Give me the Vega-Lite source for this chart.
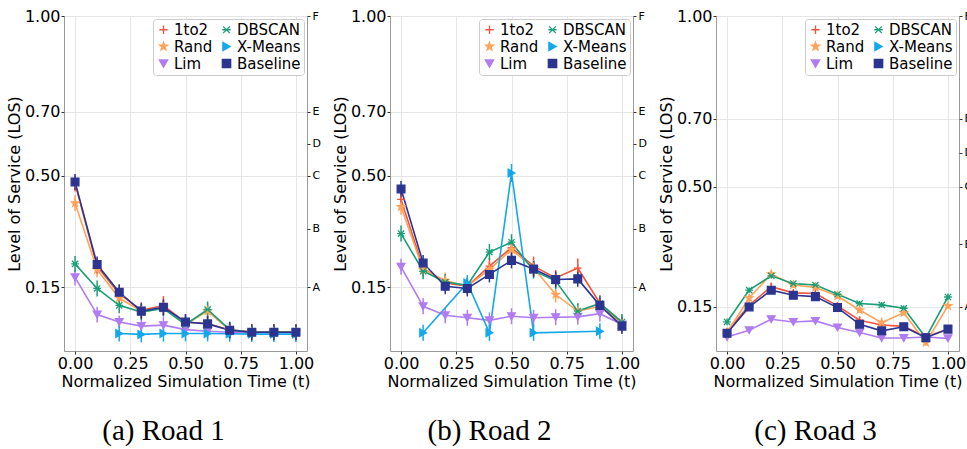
{
  "$schema": "https://vega.github.io/schema/vega-lite/v6.json",
  "padding": {"left": 5, "top": 7, "right": 0, "bottom": 0},
  "bounds": "flush",
  "spacing": 83,
  "config": {
    "font": "DejaVu Sans",
    "view": {"stroke": "#9a9a9a", "strokeWidth": 1},
    "axis": {"labelFont": "DejaVu Sans", "labelFontSize": 16, "titleFont": "DejaVu Sans", "titleFontSize": 16, "titleFontWeight": "normal", "labelColor": "#000000", "titleColor": "#000000", "domain": false, "tickColor": "#333333", "tickSize": 3, "labelPadding": 1, "titlePadding": 2, "gridColor": "#e6e6e6", "grid": true},
    "legend": {"labelFont": "DejaVu Sans", "labelFontSize": 15, "labelColor": "#000000", "fillColor": "#ffffff", "strokeColor": "#cccccc", "cornerRadius": 3, "padding": 3, "rowPadding": 1, "columnPadding": 6, "symbolSize": 70, "symbolStrokeWidth": 1.3, "labelOffset": 3},
    "title": {"font": "Liberation Serif", "fontSize": 29, "fontWeight": "normal", "color": "#000000", "orient": "bottom", "anchor": "middle", "dx": -22, "offset": 28}
  },
  "datasets": {
    "los": [{"g": "A", "v": 0.15}, {"g": "B", "v": 0.333}, {"g": "C", "v": 0.5}, {"g": "D", "v": 0.6}, {"g": "E", "v": 0.7}, {"g": "F", "v": 1.0}],
    "d": [
      {"p": "a", "s": "1to2", "t": 0.0, "v": 0.475, "e": 0.025}, {"p": "a", "s": "1to2", "t": 0.1, "v": 0.215, "e": 0.025}, {"p": "a", "s": "1to2", "t": 0.2, "v": 0.13, "e": 0.025}, {"p": "a", "s": "1to2", "t": 0.3, "v": 0.078, "e": 0.025}, {"p": "a", "s": "1to2", "t": 0.4, "v": 0.092, "e": 0.03}, {"p": "a", "s": "1to2", "t": 0.5, "v": 0.04, "e": 0.025}, {"p": "a", "s": "1to2", "t": 0.6, "v": 0.036, "e": 0.025}, {"p": "a", "s": "1to2", "t": 0.7, "v": 0.016, "e": 0.025}, {"p": "a", "s": "1to2", "t": 0.8, "v": 0.01, "e": 0.025}, {"p": "a", "s": "1to2", "t": 0.9, "v": 0.01, "e": 0.025}, {"p": "a", "s": "1to2", "t": 1.0, "v": 0.01, "e": 0.025},
      {"p": "a", "s": "Rand", "t": 0.0, "v": 0.414, "e": 0.025}, {"p": "a", "s": "Rand", "t": 0.1, "v": 0.205, "e": 0.025}, {"p": "a", "s": "Rand", "t": 0.2, "v": 0.116, "e": 0.025}, {"p": "a", "s": "Rand", "t": 0.3, "v": 0.075, "e": 0.025}, {"p": "a", "s": "Rand", "t": 0.4, "v": 0.085, "e": 0.025}, {"p": "a", "s": "Rand", "t": 0.5, "v": 0.033, "e": 0.025}, {"p": "a", "s": "Rand", "t": 0.6, "v": 0.075, "e": 0.025}, {"p": "a", "s": "Rand", "t": 0.7, "v": 0.015, "e": 0.025}, {"p": "a", "s": "Rand", "t": 0.8, "v": 0.009, "e": 0.025}, {"p": "a", "s": "Rand", "t": 0.9, "v": 0.009, "e": 0.025}, {"p": "a", "s": "Rand", "t": 1.0, "v": 0.009, "e": 0.025},
      {"p": "a", "s": "Lim", "t": 0.0, "v": 0.181, "e": 0.026}, {"p": "a", "s": "Lim", "t": 0.1, "v": 0.064, "e": 0.025}, {"p": "a", "s": "Lim", "t": 0.2, "v": 0.041, "e": 0.02}, {"p": "a", "s": "Lim", "t": 0.3, "v": 0.028, "e": 0.02}, {"p": "a", "s": "Lim", "t": 0.4, "v": 0.031, "e": 0.025}, {"p": "a", "s": "Lim", "t": 0.5, "v": 0.017, "e": 0.02}, {"p": "a", "s": "Lim", "t": 0.6, "v": 0.012, "e": 0.025}, {"p": "a", "s": "Lim", "t": 0.7, "v": 0.009, "e": 0.02}, {"p": "a", "s": "Lim", "t": 0.8, "v": 0.007, "e": 0.02}, {"p": "a", "s": "Lim", "t": 0.9, "v": 0.007, "e": 0.02}, {"p": "a", "s": "Lim", "t": 1.0, "v": 0.007, "e": 0.02},
      {"p": "a", "s": "DBSCAN", "t": 0.0, "v": 0.223, "e": 0.025}, {"p": "a", "s": "DBSCAN", "t": 0.1, "v": 0.146, "e": 0.025}, {"p": "a", "s": "DBSCAN", "t": 0.2, "v": 0.093, "e": 0.025}, {"p": "a", "s": "DBSCAN", "t": 0.3, "v": 0.072, "e": 0.025}, {"p": "a", "s": "DBSCAN", "t": 0.4, "v": 0.083, "e": 0.025}, {"p": "a", "s": "DBSCAN", "t": 0.5, "v": 0.033, "e": 0.025}, {"p": "a", "s": "DBSCAN", "t": 0.6, "v": 0.08, "e": 0.025}, {"p": "a", "s": "DBSCAN", "t": 0.7, "v": 0.017, "e": 0.025}, {"p": "a", "s": "DBSCAN", "t": 0.8, "v": 0.009, "e": 0.02}, {"p": "a", "s": "DBSCAN", "t": 0.9, "v": 0.009, "e": 0.02}, {"p": "a", "s": "DBSCAN", "t": 1.0, "v": 0.009, "e": 0.02},
      {"p": "a", "s": "X-Means", "t": 0.2, "v": 0.005, "e": 0.025}, {"p": "a", "s": "X-Means", "t": 0.3, "v": 0.002, "e": 0.025}, {"p": "a", "s": "X-Means", "t": 0.4, "v": 0.005, "e": 0.025}, {"p": "a", "s": "X-Means", "t": 0.5, "v": 0.005, "e": 0.025}, {"p": "a", "s": "X-Means", "t": 0.6, "v": 0.005, "e": 0.025}, {"p": "a", "s": "X-Means", "t": 0.7, "v": 0.004, "e": 0.025}, {"p": "a", "s": "X-Means", "t": 0.8, "v": 0.003, "e": 0.025}, {"p": "a", "s": "X-Means", "t": 0.9, "v": 0.003, "e": 0.025}, {"p": "a", "s": "X-Means", "t": 1.0, "v": 0.003, "e": 0.025},
      {"p": "a", "s": "Baseline", "t": 0.0, "v": 0.48, "e": 0.025}, {"p": "a", "s": "Baseline", "t": 0.1, "v": 0.221, "e": 0.025}, {"p": "a", "s": "Baseline", "t": 0.2, "v": 0.134, "e": 0.025}, {"p": "a", "s": "Baseline", "t": 0.3, "v": 0.075, "e": 0.025}, {"p": "a", "s": "Baseline", "t": 0.4, "v": 0.087, "e": 0.025}, {"p": "a", "s": "Baseline", "t": 0.5, "v": 0.041, "e": 0.025}, {"p": "a", "s": "Baseline", "t": 0.6, "v": 0.035, "e": 0.025}, {"p": "a", "s": "Baseline", "t": 0.7, "v": 0.015, "e": 0.025}, {"p": "a", "s": "Baseline", "t": 0.8, "v": 0.009, "e": 0.025}, {"p": "a", "s": "Baseline", "t": 0.9, "v": 0.009, "e": 0.025}, {"p": "a", "s": "Baseline", "t": 1.0, "v": 0.009, "e": 0.025},

      {"p": "b", "s": "1to2", "t": 0.0, "v": 0.425, "e": 0.025}, {"p": "b", "s": "1to2", "t": 0.1, "v": 0.21, "e": 0.025}, {"p": "b", "s": "1to2", "t": 0.2, "v": 0.163, "e": 0.025}, {"p": "b", "s": "1to2", "t": 0.3, "v": 0.153, "e": 0.025}, {"p": "b", "s": "1to2", "t": 0.4, "v": 0.216, "e": 0.025}, {"p": "b", "s": "1to2", "t": 0.5, "v": 0.274, "e": 0.025}, {"p": "b", "s": "1to2", "t": 0.6, "v": 0.216, "e": 0.03}, {"p": "b", "s": "1to2", "t": 0.7, "v": 0.179, "e": 0.025}, {"p": "b", "s": "1to2", "t": 0.8, "v": 0.21, "e": 0.03}, {"p": "b", "s": "1to2", "t": 0.9, "v": 0.1, "e": 0.025}, {"p": "b", "s": "1to2", "t": 1.0, "v": 0.038, "e": 0.025},
      {"p": "b", "s": "Rand", "t": 0.0, "v": 0.402, "e": 0.025}, {"p": "b", "s": "Rand", "t": 0.1, "v": 0.205, "e": 0.025}, {"p": "b", "s": "Rand", "t": 0.2, "v": 0.171, "e": 0.025}, {"p": "b", "s": "Rand", "t": 0.3, "v": 0.153, "e": 0.025}, {"p": "b", "s": "Rand", "t": 0.4, "v": 0.205, "e": 0.025}, {"p": "b", "s": "Rand", "t": 0.5, "v": 0.268, "e": 0.025}, {"p": "b", "s": "Rand", "t": 0.6, "v": 0.21, "e": 0.025}, {"p": "b", "s": "Rand", "t": 0.7, "v": 0.127, "e": 0.025}, {"p": "b", "s": "Rand", "t": 0.8, "v": 0.075, "e": 0.025}, {"p": "b", "s": "Rand", "t": 0.9, "v": 0.09, "e": 0.025}, {"p": "b", "s": "Rand", "t": 1.0, "v": 0.035, "e": 0.025},
      {"p": "b", "s": "Lim", "t": 0.0, "v": 0.214, "e": 0.025}, {"p": "b", "s": "Lim", "t": 0.1, "v": 0.09, "e": 0.025}, {"p": "b", "s": "Lim", "t": 0.2, "v": 0.062, "e": 0.025}, {"p": "b", "s": "Lim", "t": 0.3, "v": 0.054, "e": 0.025}, {"p": "b", "s": "Lim", "t": 0.4, "v": 0.046, "e": 0.025}, {"p": "b", "s": "Lim", "t": 0.5, "v": 0.059, "e": 0.025}, {"p": "b", "s": "Lim", "t": 0.6, "v": 0.054, "e": 0.025}, {"p": "b", "s": "Lim", "t": 0.7, "v": 0.056, "e": 0.025}, {"p": "b", "s": "Lim", "t": 0.8, "v": 0.057, "e": 0.025}, {"p": "b", "s": "Lim", "t": 0.9, "v": 0.067, "e": 0.025}, {"p": "b", "s": "Lim", "t": 1.0, "v": 0.033, "e": 0.025},
      {"p": "b", "s": "DBSCAN", "t": 0.0, "v": 0.318, "e": 0.025}, {"p": "b", "s": "DBSCAN", "t": 0.1, "v": 0.2, "e": 0.025}, {"p": "b", "s": "DBSCAN", "t": 0.2, "v": 0.166, "e": 0.025}, {"p": "b", "s": "DBSCAN", "t": 0.3, "v": 0.156, "e": 0.025}, {"p": "b", "s": "DBSCAN", "t": 0.4, "v": 0.26, "e": 0.025}, {"p": "b", "s": "DBSCAN", "t": 0.5, "v": 0.291, "e": 0.025}, {"p": "b", "s": "DBSCAN", "t": 0.6, "v": 0.202, "e": 0.025}, {"p": "b", "s": "DBSCAN", "t": 0.7, "v": 0.169, "e": 0.025}, {"p": "b", "s": "DBSCAN", "t": 0.8, "v": 0.075, "e": 0.025}, {"p": "b", "s": "DBSCAN", "t": 0.9, "v": 0.099, "e": 0.025}, {"p": "b", "s": "DBSCAN", "t": 1.0, "v": 0.041, "e": 0.025},
      {"p": "b", "s": "X-Means", "t": 0.1, "v": 0.007, "e": 0.025}, {"p": "b", "s": "X-Means", "t": 0.3, "v": 0.163, "e": 0.025}, {"p": "b", "s": "X-Means", "t": 0.4, "v": 0.007, "e": 0.025}, {"p": "b", "s": "X-Means", "t": 0.5, "v": 0.508, "e": 0.028}, {"p": "b", "s": "X-Means", "t": 0.6, "v": 0.007, "e": 0.025}, {"p": "b", "s": "X-Means", "t": 0.9, "v": 0.012, "e": 0.025},
      {"p": "b", "s": "Baseline", "t": 0.0, "v": 0.458, "e": 0.025}, {"p": "b", "s": "Baseline", "t": 0.1, "v": 0.226, "e": 0.025}, {"p": "b", "s": "Baseline", "t": 0.2, "v": 0.153, "e": 0.025}, {"p": "b", "s": "Baseline", "t": 0.3, "v": 0.146, "e": 0.025}, {"p": "b", "s": "Baseline", "t": 0.4, "v": 0.19, "e": 0.025}, {"p": "b", "s": "Baseline", "t": 0.5, "v": 0.234, "e": 0.025}, {"p": "b", "s": "Baseline", "t": 0.6, "v": 0.207, "e": 0.025}, {"p": "b", "s": "Baseline", "t": 0.7, "v": 0.174, "e": 0.025}, {"p": "b", "s": "Baseline", "t": 0.8, "v": 0.176, "e": 0.025}, {"p": "b", "s": "Baseline", "t": 0.9, "v": 0.093, "e": 0.025}, {"p": "b", "s": "Baseline", "t": 1.0, "v": 0.028, "e": 0.025},

      {"p": "c", "s": "1to2", "t": 0.0, "v": 0.076, "e": 0.008}, {"p": "c", "s": "1to2", "t": 0.1, "v": 0.154, "e": 0.008}, {"p": "c", "s": "1to2", "t": 0.2, "v": 0.208, "e": 0.012}, {"p": "c", "s": "1to2", "t": 0.3, "v": 0.19, "e": 0.008}, {"p": "c", "s": "1to2", "t": 0.4, "v": 0.188, "e": 0.008}, {"p": "c", "s": "1to2", "t": 0.5, "v": 0.152, "e": 0.01}, {"p": "c", "s": "1to2", "t": 0.6, "v": 0.11, "e": 0.01}, {"p": "c", "s": "1to2", "t": 0.7, "v": 0.096, "e": 0.008}, {"p": "c", "s": "1to2", "t": 0.8, "v": 0.092, "e": 0.008}, {"p": "c", "s": "1to2", "t": 0.9, "v": 0.061, "e": 0.008}, {"p": "c", "s": "1to2", "t": 1.0, "v": 0.084, "e": 0.008},
      {"p": "c", "s": "Rand", "t": 0.0, "v": 0.074, "e": 0.008}, {"p": "c", "s": "Rand", "t": 0.1, "v": 0.175, "e": 0.008}, {"p": "c", "s": "Rand", "t": 0.2, "v": 0.245, "e": 0.01}, {"p": "c", "s": "Rand", "t": 0.3, "v": 0.213, "e": 0.008}, {"p": "c", "s": "Rand", "t": 0.4, "v": 0.206, "e": 0.008}, {"p": "c", "s": "Rand", "t": 0.5, "v": 0.181, "e": 0.008}, {"p": "c", "s": "Rand", "t": 0.6, "v": 0.14, "e": 0.008}, {"p": "c", "s": "Rand", "t": 0.7, "v": 0.103, "e": 0.01}, {"p": "c", "s": "Rand", "t": 0.8, "v": 0.132, "e": 0.008}, {"p": "c", "s": "Rand", "t": 0.9, "v": 0.045, "e": 0.01}, {"p": "c", "s": "Rand", "t": 1.0, "v": 0.152, "e": 0.008},
      {"p": "c", "s": "Lim", "t": 0.0, "v": 0.061, "e": 0.008}, {"p": "c", "s": "Lim", "t": 0.1, "v": 0.081, "e": 0.006}, {"p": "c", "s": "Lim", "t": 0.2, "v": 0.113, "e": 0.008}, {"p": "c", "s": "Lim", "t": 0.3, "v": 0.105, "e": 0.008}, {"p": "c", "s": "Lim", "t": 0.4, "v": 0.108, "e": 0.006}, {"p": "c", "s": "Lim", "t": 0.5, "v": 0.089, "e": 0.006}, {"p": "c", "s": "Lim", "t": 0.6, "v": 0.074, "e": 0.006}, {"p": "c", "s": "Lim", "t": 0.7, "v": 0.058, "e": 0.006}, {"p": "c", "s": "Lim", "t": 0.8, "v": 0.058, "e": 0.006}, {"p": "c", "s": "Lim", "t": 0.9, "v": 0.061, "e": 0.006}, {"p": "c", "s": "Lim", "t": 1.0, "v": 0.057, "e": 0.006},
      {"p": "c", "s": "DBSCAN", "t": 0.0, "v": 0.105, "e": 0.01}, {"p": "c", "s": "DBSCAN", "t": 0.1, "v": 0.198, "e": 0.008}, {"p": "c", "s": "DBSCAN", "t": 0.2, "v": 0.24, "e": 0.008}, {"p": "c", "s": "DBSCAN", "t": 0.3, "v": 0.217, "e": 0.008}, {"p": "c", "s": "DBSCAN", "t": 0.4, "v": 0.213, "e": 0.008}, {"p": "c", "s": "DBSCAN", "t": 0.5, "v": 0.186, "e": 0.008}, {"p": "c", "s": "DBSCAN", "t": 0.6, "v": 0.159, "e": 0.008}, {"p": "c", "s": "DBSCAN", "t": 0.7, "v": 0.155, "e": 0.008}, {"p": "c", "s": "DBSCAN", "t": 0.8, "v": 0.145, "e": 0.008}, {"p": "c", "s": "DBSCAN", "t": 0.9, "v": 0.059, "e": 0.008}, {"p": "c", "s": "DBSCAN", "t": 1.0, "v": 0.178, "e": 0.01},
      {"p": "c", "s": "Baseline", "t": 0.0, "v": 0.072, "e": 0.008}, {"p": "c", "s": "Baseline", "t": 0.1, "v": 0.149, "e": 0.008}, {"p": "c", "s": "Baseline", "t": 0.2, "v": 0.198, "e": 0.008}, {"p": "c", "s": "Baseline", "t": 0.3, "v": 0.183, "e": 0.008}, {"p": "c", "s": "Baseline", "t": 0.4, "v": 0.179, "e": 0.008}, {"p": "c", "s": "Baseline", "t": 0.5, "v": 0.147, "e": 0.008}, {"p": "c", "s": "Baseline", "t": 0.6, "v": 0.098, "e": 0.008}, {"p": "c", "s": "Baseline", "t": 0.7, "v": 0.079, "e": 0.008}, {"p": "c", "s": "Baseline", "t": 0.8, "v": 0.091, "e": 0.008}, {"p": "c", "s": "Baseline", "t": 0.9, "v": 0.059, "e": 0.008}, {"p": "c", "s": "Baseline", "t": 1.0, "v": 0.084, "e": 0.008}
    ]
  },
  "resolve": {
    "scale": {"x": "independent", "y": "independent", "color": "independent", "stroke": "independent", "shape": "independent"},
    "legend": {"color": "independent", "stroke": "independent", "shape": "independent"}
  },
  "hconcat": [
    {
      "width": 243, "height": 335,
      "title": {"text": "(a) Road 1"},
      "resolve": {"axis": {"y": "independent"}},
      "layer": [
        {
          "data": {"name": "d"}, "transform": [{"filter": "datum.p == 'a'"}],
          "encoding": {
            "x": {"field": "t", "type": "quantitative", "scale": {"domain": [-0.05, 1.05], "nice": false, "zero": false}, "axis": {"values": [0, 0.25, 0.5, 0.75, 1], "format": ".2f", "title": "Normalized Simulation Time (t)"}},
            "y": {"field": "v", "type": "quantitative", "scale": {"domain": [-0.05, 1.0], "nice": false, "zero": false}, "axis": {"values": [0.15, 0.5, 0.7, 1.0], "format": ".2f", "title": "Level of Service (LOS)"}},
            "color": {"field": "s", "type": "nominal", "scale": {"domain": ["1to2", "Rand", "Lim", "DBSCAN", "X-Means", "Baseline"], "range": ["#F0533D", "#FFA35A", "#B07CF0", "#1A9E77", "#14A8EA", "#2B3590"]}, "legend": {"orient": "top-right", "columns": 2, "title": null, "offset": 3}}
          },
          "layer": [
            {"mark": {"type": "errorbar", "ticks": false, "thickness": 1.5}, "encoding": {"yError": {"field": "e"}}},
            {"mark": {"type": "line", "strokeWidth": 1.6}},
            {
              "mark": {"type": "point", "filled": true, "size": 60, "strokeWidth": 1.3, "opacity": 1},
              "encoding": {
                "stroke": {"field": "s", "type": "nominal", "scale": {"domain": ["1to2", "Rand", "Lim", "DBSCAN", "X-Means", "Baseline"], "range": ["#F0533D", "#FFA35A", "#B07CF0", "#1A9E77", "#14A8EA", "#2B3590"]}, "legend": {"orient": "top-right", "columns": 2, "title": null, "offset": 3}},
                "shape": {"field": "s", "type": "nominal", "scale": {"domain": ["1to2", "Rand", "Lim", "DBSCAN", "X-Means", "Baseline"], "range": ["M-1,0L1,0M0,-1L0,1", "M0,-1L0.235,-0.324L0.951,-0.309L0.38,0.124L0.588,0.809L0,0.4L-0.588,0.809L-0.38,0.124L-0.951,-0.309L-0.235,-0.324Z", "triangle-down", "M-0.8,-0.8L0.8,0.8M-0.8,0.8L0.8,-0.8M-1,0L1,0", "triangle-right", "square"]}, "legend": {"orient": "top-right", "columns": 2, "title": null, "offset": 3}}
              }
            }
          ]
        },
        {
          "data": {"name": "los"},
          "mark": {"type": "rule", "opacity": 0},
          "encoding": {
            "y": {"field": "v", "type": "quantitative", "scale": {"domain": [-0.05, 1.0], "nice": false, "zero": false}, "axis": {"orient": "right", "values": [0.15, 0.333, 0.5, 0.6, 0.7, 1.0], "labelExpr": "datum.value == 0.15 ? 'A' : datum.value == 0.333 ? 'B' : datum.value == 0.5 ? 'C' : datum.value == 0.6 ? 'D' : datum.value == 0.7 ? 'E' : 'F'", "title": null, "grid": false, "labelFontSize": 11, "tickSize": 3, "labelPadding": 2}}
          }
        }
      ]
    },
    {
      "width": 243, "height": 335,
      "title": {"text": "(b) Road 2"},
      "resolve": {"axis": {"y": "independent"}},
      "layer": [
        {
          "data": {"name": "d"}, "transform": [{"filter": "datum.p == 'b'"}],
          "encoding": {
            "x": {"field": "t", "type": "quantitative", "scale": {"domain": [-0.05, 1.05], "nice": false, "zero": false}, "axis": {"values": [0, 0.25, 0.5, 0.75, 1], "format": ".2f", "title": "Normalized Simulation Time (t)"}},
            "y": {"field": "v", "type": "quantitative", "scale": {"domain": [-0.05, 1.0], "nice": false, "zero": false}, "axis": {"values": [0.15, 0.5, 0.7, 1.0], "format": ".2f", "title": "Level of Service (LOS)"}},
            "color": {"field": "s", "type": "nominal", "scale": {"domain": ["1to2", "Rand", "Lim", "DBSCAN", "X-Means", "Baseline"], "range": ["#F0533D", "#FFA35A", "#B07CF0", "#1A9E77", "#14A8EA", "#2B3590"]}, "legend": {"orient": "top-right", "columns": 2, "title": null, "offset": 3}}
          },
          "layer": [
            {"mark": {"type": "errorbar", "ticks": false, "thickness": 1.5}, "encoding": {"yError": {"field": "e"}}},
            {"mark": {"type": "line", "strokeWidth": 1.6}},
            {
              "mark": {"type": "point", "filled": true, "size": 60, "strokeWidth": 1.3, "opacity": 1},
              "encoding": {
                "stroke": {"field": "s", "type": "nominal", "scale": {"domain": ["1to2", "Rand", "Lim", "DBSCAN", "X-Means", "Baseline"], "range": ["#F0533D", "#FFA35A", "#B07CF0", "#1A9E77", "#14A8EA", "#2B3590"]}, "legend": {"orient": "top-right", "columns": 2, "title": null, "offset": 3}},
                "shape": {"field": "s", "type": "nominal", "scale": {"domain": ["1to2", "Rand", "Lim", "DBSCAN", "X-Means", "Baseline"], "range": ["M-1,0L1,0M0,-1L0,1", "M0,-1L0.235,-0.324L0.951,-0.309L0.38,0.124L0.588,0.809L0,0.4L-0.588,0.809L-0.38,0.124L-0.951,-0.309L-0.235,-0.324Z", "triangle-down", "M-0.8,-0.8L0.8,0.8M-0.8,0.8L0.8,-0.8M-1,0L1,0", "triangle-right", "square"]}, "legend": {"orient": "top-right", "columns": 2, "title": null, "offset": 3}}
              }
            }
          ]
        },
        {
          "data": {"name": "los"},
          "mark": {"type": "rule", "opacity": 0},
          "encoding": {
            "y": {"field": "v", "type": "quantitative", "scale": {"domain": [-0.05, 1.0], "nice": false, "zero": false}, "axis": {"orient": "right", "values": [0.15, 0.333, 0.5, 0.6, 0.7, 1.0], "labelExpr": "datum.value == 0.15 ? 'A' : datum.value == 0.333 ? 'B' : datum.value == 0.5 ? 'C' : datum.value == 0.6 ? 'D' : datum.value == 0.7 ? 'E' : 'F'", "title": null, "grid": false, "labelFontSize": 11, "tickSize": 3, "labelPadding": 2}}
          }
        }
      ]
    },
    {
      "width": 243, "height": 335,
      "title": {"text": "(c) Road 3"},
      "resolve": {"axis": {"y": "independent"}},
      "layer": [
        {
          "data": {"name": "d"}, "transform": [{"filter": "datum.p == 'c'"}],
          "encoding": {
            "x": {"field": "t", "type": "quantitative", "scale": {"domain": [-0.05, 1.05], "nice": false, "zero": false}, "axis": {"values": [0, 0.25, 0.5, 0.75, 1], "format": ".2f", "title": "Normalized Simulation Time (t)"}},
            "y": {"field": "v", "type": "quantitative", "scale": {"domain": [0.02, 1.0], "nice": false, "zero": false}, "axis": {"values": [0.15, 0.5, 0.7, 1.0], "format": ".2f", "title": "Level of Service (LOS)"}},
            "color": {"field": "s", "type": "nominal", "scale": {"domain": ["1to2", "Rand", "Lim", "DBSCAN", "X-Means", "Baseline"], "range": ["#F0533D", "#FFA35A", "#B07CF0", "#1A9E77", "#14A8EA", "#2B3590"]}, "legend": {"orient": "top-right", "columns": 2, "title": null, "offset": 3}}
          },
          "layer": [
            {"mark": {"type": "errorbar", "ticks": false, "thickness": 1.5}, "encoding": {"yError": {"field": "e"}}},
            {"mark": {"type": "line", "strokeWidth": 1.6}},
            {
              "mark": {"type": "point", "filled": true, "size": 60, "strokeWidth": 1.3, "opacity": 1},
              "encoding": {
                "stroke": {"field": "s", "type": "nominal", "scale": {"domain": ["1to2", "Rand", "Lim", "DBSCAN", "X-Means", "Baseline"], "range": ["#F0533D", "#FFA35A", "#B07CF0", "#1A9E77", "#14A8EA", "#2B3590"]}, "legend": {"orient": "top-right", "columns": 2, "title": null, "offset": 3}},
                "shape": {"field": "s", "type": "nominal", "scale": {"domain": ["1to2", "Rand", "Lim", "DBSCAN", "X-Means", "Baseline"], "range": ["M-1,0L1,0M0,-1L0,1", "M0,-1L0.235,-0.324L0.951,-0.309L0.38,0.124L0.588,0.809L0,0.4L-0.588,0.809L-0.38,0.124L-0.951,-0.309L-0.235,-0.324Z", "triangle-down", "M-0.8,-0.8L0.8,0.8M-0.8,0.8L0.8,-0.8M-1,0L1,0", "triangle-right", "square"]}, "legend": {"orient": "top-right", "columns": 2, "title": null, "offset": 3}}
              }
            }
          ]
        },
        {
          "data": {"name": "los"},
          "mark": {"type": "rule", "opacity": 0},
          "encoding": {
            "y": {"field": "v", "type": "quantitative", "scale": {"domain": [0.02, 1.0], "nice": false, "zero": false}, "axis": {"orient": "right", "values": [0.15, 0.333, 0.5, 0.6, 0.7, 1.0], "labelExpr": "datum.value == 0.15 ? 'A' : datum.value == 0.333 ? 'B' : datum.value == 0.5 ? 'C' : datum.value == 0.6 ? 'D' : datum.value == 0.7 ? 'E' : 'F'", "title": null, "grid": false, "labelFontSize": 11, "tickSize": 3, "labelPadding": 2}}
          }
        }
      ]
    }
  ]
}
